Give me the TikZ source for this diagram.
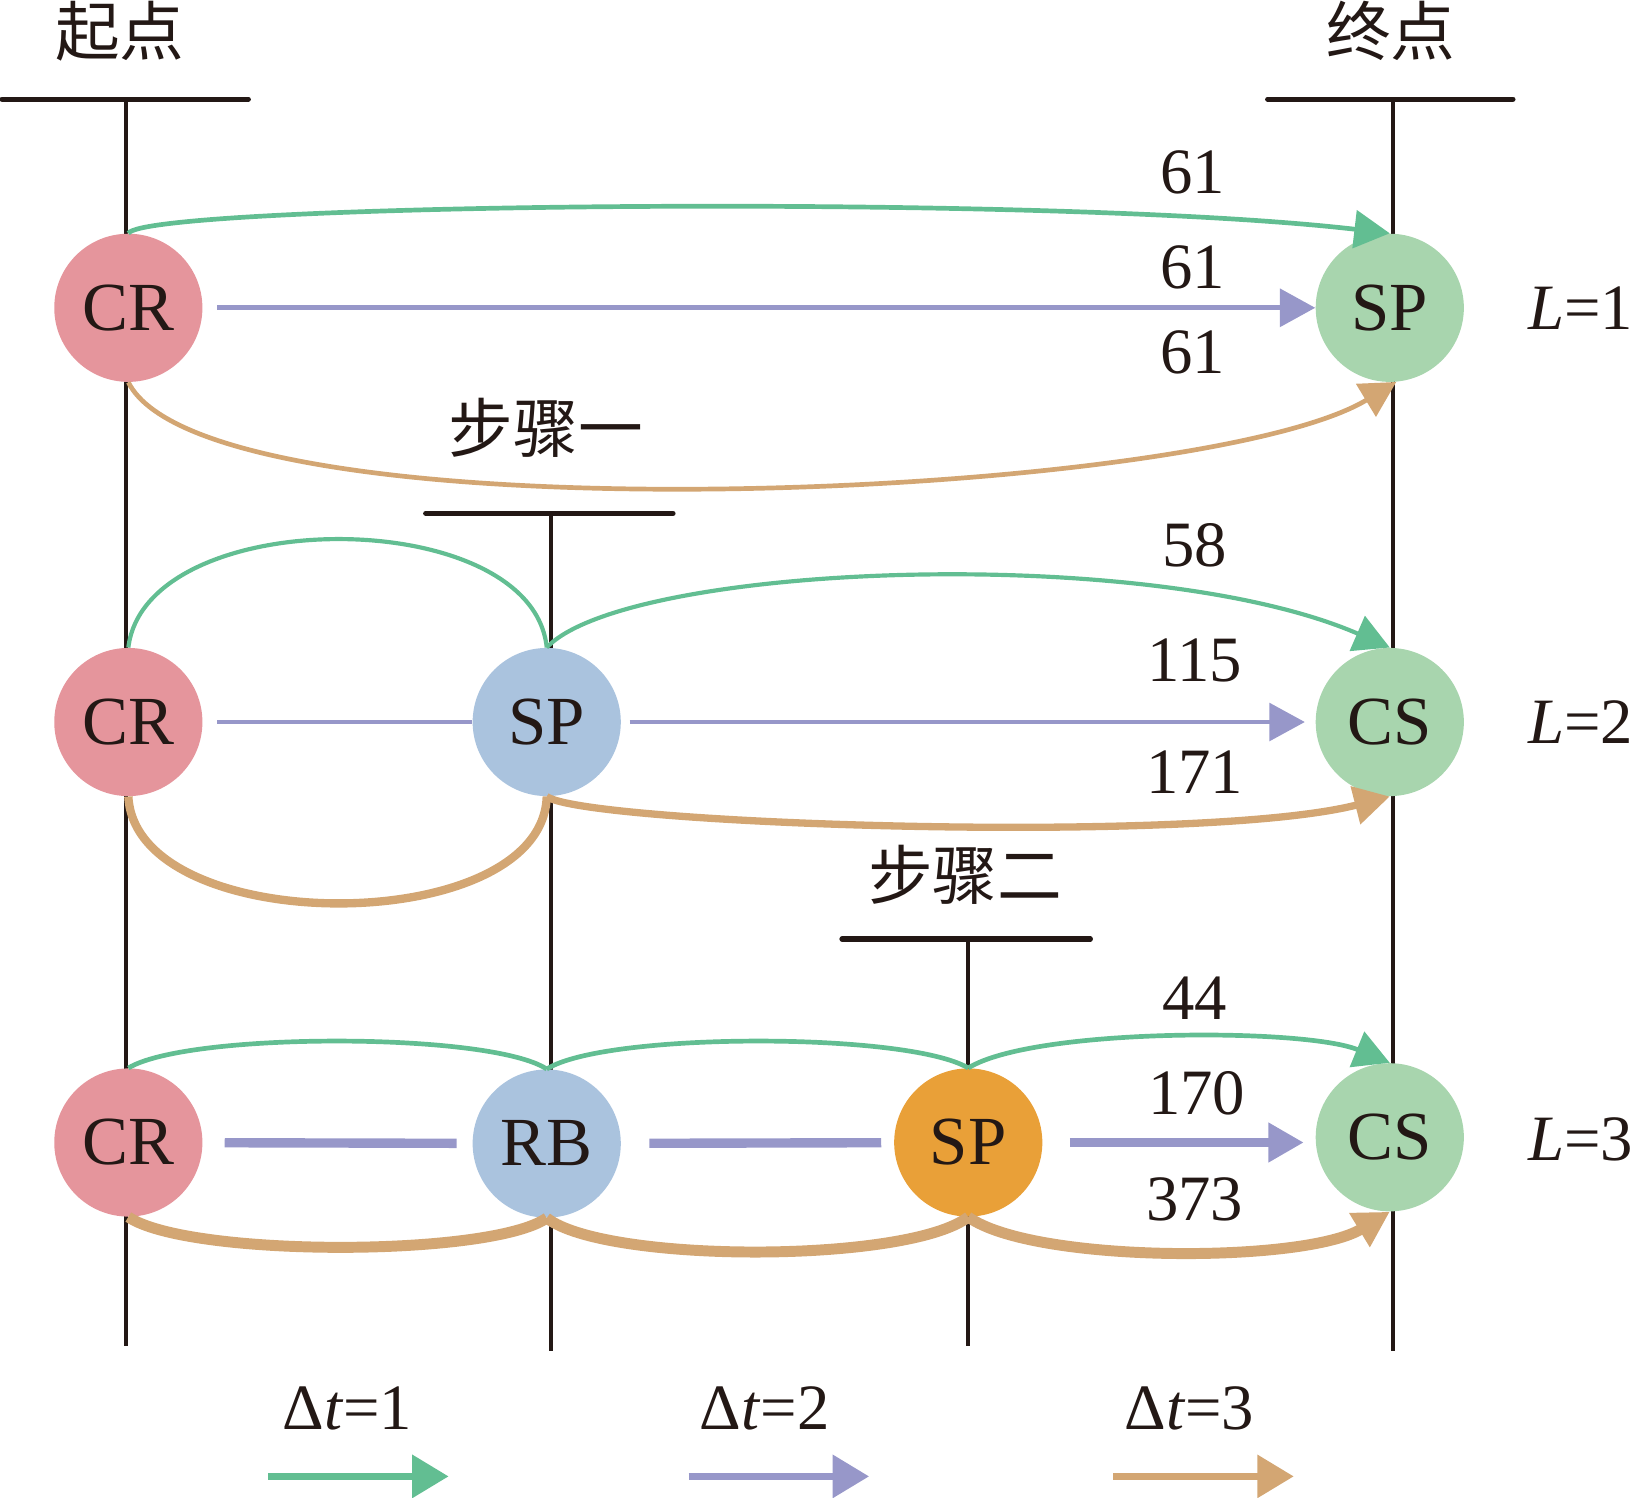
\documentclass[tikz,border=0pt]{standalone}
\usepackage{fontspec}
\setmainfont{Liberation Serif}
\newfontfamily\cjk{Noto Sans CJK SC}
\usetikzlibrary{arrows.meta}

\definecolor{linebk}{RGB}{35,24,21}
\definecolor{crpink}{RGB}{229,149,156}
\definecolor{spgreen}{RGB}{168,213,174}
\definecolor{rbblue}{RGB}{170,195,222}
\definecolor{sporange}{RGB}{233,160,56}
\definecolor{tgreen}{RGB}{98,190,146}
\definecolor{tpurple}{RGB}{151,151,201}
\definecolor{ttan}{RGB}{211,166,115}

\begin{document}
\begin{tikzpicture}[x=0.5pt, y=-0.5pt,
    state/.style={circle, inner sep=0pt, minimum size=71pt, text=linebk, font=\fontsize{33}{33}\selectfont},
    lbl/.style={inner sep=0pt, text=linebk, font=\fontsize{31}{31}\selectfont},
    title/.style={inner sep=0pt, text=linebk, font=\cjk\fontsize{31}{31}\selectfont},
    axis/.style={line width=1.8pt, draw=linebk},
    bar/.style={line width=2.5pt, draw=linebk, line cap=round},
    gline/.style={draw=tgreen, line width=2.25pt},
    pline/.style={draw=tpurple, line width=2.4pt},
    tline/.style={draw=ttan, line width=2.25pt},
    tip/.style={-{Triangle[length=17pt, width=18pt]}}]

\useasboundingbox (0,0) rectangle (1568,1435);

% time axes
\coordinate (a0l) at (2,95);    \coordinate (a0r) at (238,95);
\coordinate (a0t) at (121,95);  \coordinate (a0b) at (121,1290);
\coordinate (a1l) at (408,492); \coordinate (a1r) at (645,492);
\coordinate (a1t) at (528,492); \coordinate (a1b) at (528,1295);
\coordinate (a2l) at (807,900); \coordinate (a2r) at (1045,900);
\coordinate (a2t) at (928,900); \coordinate (a2b) at (928,1290);
\coordinate (a3l) at (1215,95); \coordinate (a3r) at (1450,95);
\coordinate (a3t) at (1335,95); \coordinate (a3b) at (1335,1295);
\foreach \i in {0,1,2,3}{
  \draw[bar] (a\i l) -- (a\i r);
  \draw[axis] (a\i t) -- (a\i b);
}

\node[title] (start) at (115,30) {起点};
\node[title] (goal) at (1333,30) {终点};
\node[title] (step1) at (523,410) {步骤一};
\node[title] (step2) at (925,838) {步骤二};

% L=1
\node[state, fill=crpink] (CR1) at (123,295) {CR};
\node[state, fill=spgreen] (SP1) at (1332,295) {SP};
% L=2
\node[state, fill=crpink] (CR2) at (123,692) {CR};
\node[state, fill=rbblue] (SP2) at (524,692) {SP};
\node[state, fill=spgreen] (CS2) at (1332,692) {CS};
% L=3
\node[state, fill=crpink] (CR3) at (123,1095) {CR};
\node[state, fill=rbblue] (RB3) at (524,1096) {RB};
\node[state, fill=sporange] (SP3) at (928,1095) {SP};
\node[state, fill=spgreen] (CS3) at (1332,1090) {CS};

\node[lbl] (n11) at (1143,165) {61};
\node[lbl] (n12) at (1143,256) {61};
\node[lbl] (n13) at (1143,338) {61};
\node[lbl] (n21) at (1145,523) {58};
\node[lbl] (n22) at (1145,633) {115};
\node[lbl] (n23) at (1145,740) {171};
\node[lbl] (n31) at (1145,957) {44};
\node[lbl] (n32) at (1147,1048) {170};
\node[lbl] (n33) at (1145,1150) {373};

\node[lbl] (L1) at (1515,295) {\textit{L}=1};
\node[lbl] (L2) at (1515,692) {\textit{L}=2};
\node[lbl] (L3) at (1515,1092) {\textit{L}=3};

% row 1
\draw[gline, tip] (CR1.north) .. controls (140,195) and (1000,185) .. (SP1.north);
\draw[pline, tip, shorten <=7pt] (CR1) -- (SP1);
\draw[tline, tip] (CR1.south) .. controls (200,520) and (1150,480) .. (SP1.-85);

% row 2
\draw[gline, line width=2pt] (CR2.north) .. controls (140,482) and (510,482) .. (SP2.north);
\draw[gline, line width=2pt, tip] (SP2.north) .. controls (600,540) and (1100,520) .. (CS2.north);
\draw[pline, line width=2pt, shorten <=7pt] (CR2) -- (SP2);
\draw[pline, line width=2pt, tip, shorten <=4pt, shorten >=5pt] (SP2) -- (CS2);
\draw[tline, line width=4pt] (CR2.south) .. controls (130,900) and (520,900) .. (SP2.south);
\draw[tline, line width=3.5pt, tip] (SP2.south) .. controls (560,790) and (1150,810) .. (CS2.south);

% row 3
\draw[gline] (CR3.north) .. controls (180,989) and (470,989) .. (RB3.north);
\draw[gline] (RB3.north) .. controls (580,989) and (870,989) .. (SP3.north);
\draw[gline, tip] (SP3.north) .. controls (990,985) and (1250,985) .. (CS3.north);
\draw[pline, line width=4.5pt, shorten <=10.5pt, shorten >=7.5pt] (CR3) -- (RB3);
\draw[pline, line width=4.5pt, shorten <=13.5pt, shorten >=6pt] (RB3) -- (SP3);
\draw[pline, line width=4.5pt, tip, shorten <=13pt, shorten >=5.5pt] (SP3.east) -- (SP3.east -| CS3.west);
\draw[tline, line width=5.25pt] (CR3.south) .. controls (180,1205) and (470,1205) .. (RB3.south);
\draw[tline, line width=5.25pt] (RB3.south) .. controls (580,1211) and (870,1211) .. (SP3.south);
\draw[tline, line width=5.25pt, tip] (SP3.south) .. controls (990,1211) and (1250,1211) .. (CS3.south);

% legend
\node[lbl] (dt1) at (333,1350) {Δ\textit{t}=1};
\node[lbl] (dt2) at (733,1350) {Δ\textit{t}=2};
\node[lbl] (dt3) at (1140,1350) {Δ\textit{t}=3};
\coordinate (g1) at (257,1415);  \coordinate (g1e) at (430,1415);
\coordinate (g2) at (660,1415);  \coordinate (g2e) at (833,1415);
\coordinate (g3) at (1067,1415); \coordinate (g3e) at (1240,1415);
\draw[gline, line width=3.5pt, -{Triangle[length=17.5pt, width=20pt]}] (g1) -- (g1e);
\draw[pline, line width=3.5pt, -{Triangle[length=17.5pt, width=20pt]}] (g2) -- (g2e);
\draw[tline, line width=3.5pt, -{Triangle[length=17.5pt, width=20pt]}] (g3) -- (g3e);
\end{tikzpicture}
\end{document}
